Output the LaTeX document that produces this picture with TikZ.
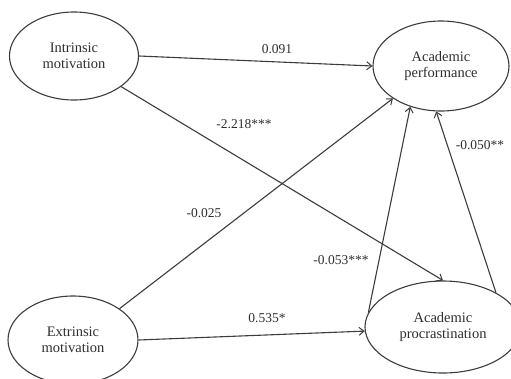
\documentclass[tikz,border=0pt]{standalone}
\usepackage{fontspec}
\setmainfont{Liberation Serif}
\usetikzlibrary{shapes.geometric,arrows.meta}
\definecolor{linec}{HTML}{3C3C3C}
\definecolor{textc}{HTML}{2E2E2E}
\tikzset{
  var/.style={draw=linec, line width=1.1pt, ellipse, inner sep=0pt, align=center,
    text=textc, font=\fontsize{14.5}{16.5}\selectfont},
  path/.style={draw=linec, line width=1.1pt, -{Straight Barb[length=5pt,width=8pt,line width=1pt]}},
  lab/.style={text=textc, font=\fontsize{13.5}{15}\selectfont, inner sep=0pt}
}
\begin{document}
\begin{tikzpicture}[x=1pt,y=-1pt]
\useasboundingbox (0,0) rectangle (511,378);
\node[var, minimum width=129pt, minimum height=88pt] (I) at (74,56) {Intrinsic\\motivation};
\node[var, minimum width=130pt, minimum height=88pt] (E) at (73,340) {Extrinsic\\motivation};
\node[var, minimum width=136pt, minimum height=90pt] (P) at (441,66) {Academic\\performance};
\node[var, minimum width=156pt, minimum height=92pt] (R) at (443,327) {Academic\\procrastination};

\draw[path] (I.east) -- (P.west);
\draw[path] (I.-33) -- (R.north);
\draw[path] (E.34) -- (P.-146);
\draw[path] (E.east) -- (R.183);
\draw[path] (R.169) -- (P.-127);
\draw[path] (R.33.7) -- (P.-96);

\node[lab] (l1) at (277,49) {0.091};
\node[lab] (l2) at (244,124) {-2.218***};
\node[lab] (l3) at (204,213) {-0.025};
\node[lab] (l4) at (267,318) {0.535*};
\node[lab] (l5) at (341,260) {-0.053***};
\node[lab] (l6) at (480,145) {-0.050**};
\end{tikzpicture}
\end{document}
